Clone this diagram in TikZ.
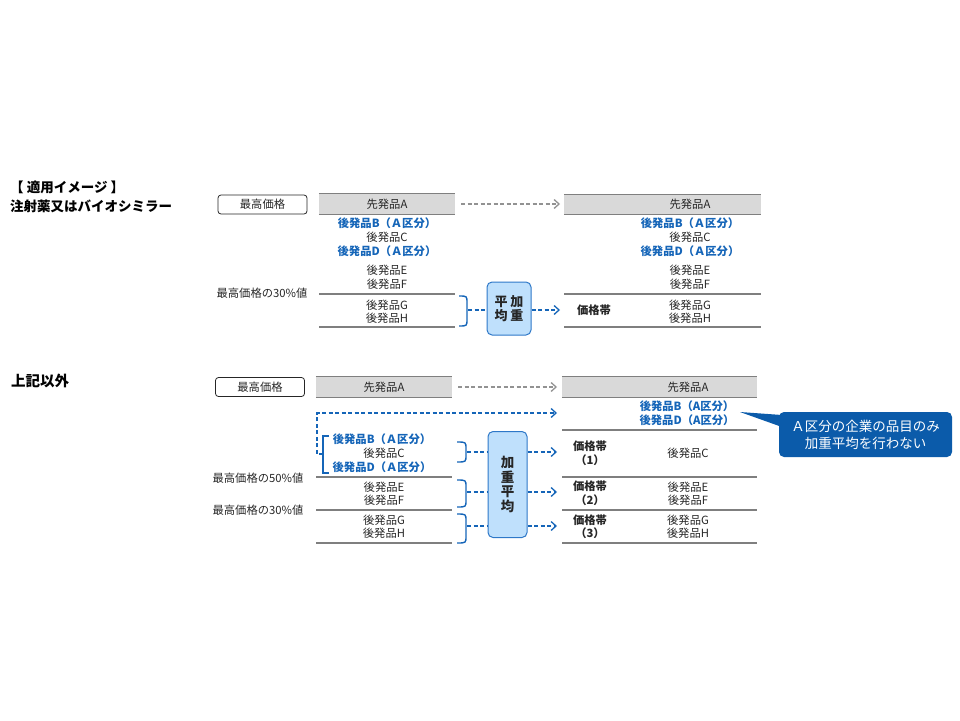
\documentclass[tikz,border=0pt]{standalone}
\usepackage{fontspec}
\setmainfont{Noto Sans CJK JP}
\usetikzlibrary{arrows.meta}
\definecolor{txtc}{HTML}{262626}
\definecolor{blu}{HTML}{1565B8}
\definecolor{dblu}{HTML}{0B5BAA}
\definecolor{lblu}{HTML}{BFE0FC}
\definecolor{bbord}{HTML}{2E78C8}
\definecolor{grl}{HTML}{7F7F7F}
\definecolor{grf}{HTML}{D9D9D9}
\begin{document}
\begin{tikzpicture}[x=1pt,y=-1pt,
  t/.style={font=\fontsize{11.3}{12}\selectfont, text=txtc, inner sep=0pt},
  tb/.style={font=\fontsize{11.3}{12}\selectfont\bfseries, text=blu, inner sep=0pt},
  tk/.style={font=\fontsize{11.3}{12}\selectfont\bfseries, text=txtc, inner sep=0pt, align=center},
  ttl/.style={font=\fontsize{13.5}{16}\selectfont\bfseries, text=black, inner sep=0pt, anchor=west},
  maxbox/.style={draw=txtc, line width=0.8pt, rounded corners=3pt, minimum width=89, minimum height=19, inner sep=0pt, font=\fontsize{11.3}{12}\selectfont, text=txtc},
  band/.style={fill=grf, minimum height=20, inner sep=0pt},
  tl/.style={draw=grl, line width=1.3pt},
  brk/.style={draw=blu, line width=1.4pt},
  bd/.style={draw=blu, line width=1.3pt, dash pattern=on 4pt off 2.5pt},
  bda/.style={bd, -{Straight Barb[length=5pt,width=9pt,line width=1.3pt]}},
  gda/.style={draw=grl!85, line width=1.3pt, dash pattern=on 4pt off 2.5pt, -{Straight Barb[length=5pt,width=9pt,line width=1.3pt]}},
  wbox/.style={draw=bbord, fill=lblu, line width=1pt, rounded corners=5pt, inner sep=0pt, align=center, text=txtc},
]
\useasboundingbox (0,0) rectangle (960,720);

% ---------------- titles
\node[ttl] (title1) at (10,187) {【 適用イメージ 】};
\node[ttl] (title2) at (10,206) {注射薬又はバイオシミラー};
\node[ttl, font=\fontsize{14.5}{16}\selectfont\bfseries] (title3) at (11,381) {上記以外};

% ================= TOP SECTION
\node[maxbox] (mx1) at (262.5,204.5) {最高価格};
\node[band, minimum width=136] (hL1) at (387,204) {};
\draw[tl] (hL1.north west) -- (hL1.north east) (hL1.south west) -- (hL1.south east);
\node[t] (aL1) at (387,204) {先発品A};
\node[tb] (bL1) at (387,223) {後発品B（Ａ区分）};
\node[t] (cL1) at (387,237) {後発品C};
\node[tb] (dL1) at (387,251) {後発品D（Ａ区分）};
\node[t] (eL1) at (387,270) {後発品E};
\node[t] (fL1) at (387,284) {後発品F};
\node[t] (p30a) at (262,293) {最高価格の30\%値};
\coordinate (l1a) at (319,294); \coordinate (l1b) at (455,294);
\draw[tl] (l1a) -- (l1b);
\node[t] (gL1) at (387,305) {後発品G};
\node[t] (hhL1) at (387,318) {後発品H};
\coordinate (l2a) at (319,327); \coordinate (l2b) at (455,327);
\draw[tl] (l2a) -- (l2b);

% gray arrow
\coordinate (ga1) at (461,204); \coordinate (gb1) at (560,204);
\draw[gda] (ga1) -- (gb1);

% bracket + weighted average box
\coordinate (bt1) at (459,296); \coordinate (bb1) at (459,326); \coordinate (bm1) at (468,310);
\draw[brk] (bt1) .. controls (467,296) .. (467,303) -- (467,319) .. controls (467,326) .. (bb1);
\node[wbox, minimum width=44, minimum height=53, font=\fontsize{13}{13.5}\selectfont\bfseries] (w1) at (509,308.5) {平\hspace{3pt}加\\均\hspace{3pt}重};
\draw[bd] (bm1) -- (bm1 -| w1.west);
\coordinate (ar0) at (560,310);
\draw[bda] (bm1 -| w1.east) -- (ar0);

% right table
\node[band, minimum width=197] (hR1) at (662.5,204.5) {};
\draw[tl] (hR1.north west) -- (hR1.north east) (hR1.south west) -- (hR1.south east);
\node[t] (aR1) at (690,204) {先発品A};
\node[tb] (bR1) at (690,223) {後発品B（Ａ区分）};
\node[t] (cR1) at (690,237) {後発品C};
\node[tb] (dR1) at (690,251) {後発品D（Ａ区分）};
\node[t] (eR1) at (690,270) {後発品E};
\node[t] (fR1) at (690,284) {後発品F};
\coordinate (r1a) at (564,294); \coordinate (r1b) at (761,294);
\draw[tl] (r1a) -- (r1b);
\node[tk] (kR1) at (594,310) {価格帯};
\node[t] (gR1) at (690,305) {後発品G};
\node[t] (hhR1) at (690,318) {後発品H};
\coordinate (r2a) at (564,327); \coordinate (r2b) at (761,327);
\draw[tl] (r2a) -- (r2b);

% ================= BOTTOM SECTION
\node[maxbox] (mx2) at (260,387) {最高価格};
\node[band, minimum width=136] (hL2) at (384,387) {};
\draw[tl] (hL2.north west) -- (hL2.north east) (hL2.south west) -- (hL2.south east);
\node[t] (aL2) at (384,387) {先発品A};
\coordinate (ga2) at (458,387); \coordinate (gb2) at (557,387);
\draw[gda] (ga2) -- (gb2);

\node[tb] (bL2) at (382,439) {後発品B（Ａ区分）};
\node[t] (cL2) at (384,453) {後発品C};
\node[tb] (dL2) at (382,467) {後発品D（Ａ区分）};
% left square bracket and dashed route
\draw[brk] (329,436) -- (323,436) -- (323,473) -- (329,473);
\coordinate (sq) at (323,454);
\coordinate (up1) at (317,454); \coordinate (up2) at (317,413); \coordinate (upe) at (557,413);
\draw[bda] (sq) -- (up1) -- (up2) -- (upe);

\node[t] (p50) at (258,478) {最高価格の50\%値};
\coordinate (m1a) at (316,477); \coordinate (m1b) at (452,477);
\draw[tl] (m1a) -- (m1b);
\node[t] (eL2) at (384,487) {後発品E};
\node[t] (fL2) at (384,500) {後発品F};
\node[t] (p30b) at (258,510) {最高価格の30\%値};
\coordinate (m2a) at (316,510); \coordinate (m2b) at (452,510);
\draw[tl] (m2a) -- (m2b);
\node[t] (gL2) at (384,520) {後発品G};
\node[t] (hhL2) at (384,533) {後発品H};
\coordinate (m3a) at (316,543); \coordinate (m3b) at (452,543);
\draw[tl] (m3a) -- (m3b);

% brackets
\draw[brk] (457,442) .. controls (466,442) .. (466,449) -- (466,455) .. controls (466,462) .. (457,462);
\draw[brk] (457,480) .. controls (466,480) .. (466,487) -- (466,500) .. controls (466,507) .. (457,507);
\draw[brk] (457,514) .. controls (466,514) .. (466,521) -- (466,536) .. controls (466,543) .. (457,543);
\coordinate (k1) at (467,452); \coordinate (k2) at (467,492); \coordinate (k3) at (467,526);

\node[wbox, minimum width=39, minimum height=106, font=\fontsize{13.5}{14.5}\selectfont\bfseries] (w2) at (507.5,484.5) {加\\重\\平\\均};
\draw[bd] (k1) -- (k1 -| w2.west);
\draw[bd] (k2) -- (k2 -| w2.west);
\draw[bd] (k3) -- (k3 -| w2.west);
\coordinate (e1) at (557,452); \coordinate (e2) at (557,492); \coordinate (e3) at (557,526);
\draw[bda] (k1 -| w2.east) -- (e1);
\draw[bda] (k2 -| w2.east) -- (e2);
\draw[bda] (k3 -| w2.east) -- (e3);

% right table bottom
\node[band, minimum width=195] (hR2) at (659.5,387) {};
\draw[tl] (hR2.north west) -- (hR2.north east) (hR2.south west) -- (hR2.south east);
\node[t] (aR2) at (688,387) {先発品A};
\node[tb] (bR2) at (687,406) {後発品B（A区分）};
\node[tb] (dR2) at (687,420) {後発品D（A区分）};
\coordinate (n1a) at (562,430); \coordinate (n1b) at (757,430);
\draw[tl] (n1a) -- (n1b);
\node[tk] (k1R) at (590,446) {価格帯};
\node[tk] (k1n) at (590,460) {（1）};
\node[t] (cR2) at (688,453) {後発品C};
\coordinate (n2a) at (562,477); \coordinate (n2b) at (757,477);
\draw[tl] (n2a) -- (n2b);
\node[tk] (k2R) at (590,486) {価格帯};
\node[tk] (k2n) at (590,500) {（2）};
\node[t] (eR2) at (688,487) {後発品E};
\node[t] (fR2) at (688,500) {後発品F};
\coordinate (n3a) at (562,510); \coordinate (n3b) at (757,510);
\draw[tl] (n3a) -- (n3b);
\node[tk] (k3R) at (590,520) {価格帯};
\node[tk] (k3n) at (590,533) {（3）};
\node[t] (gR2) at (688,520) {後発品G};
\node[t] (hhR2) at (688,533) {後発品H};
\coordinate (n4a) at (562,543); \coordinate (n4b) at (757,543);
\draw[tl] (n4a) -- (n4b);

% callout
\coordinate (tip) at (740,412);
\fill[dblu] (tip) -- (782,415) -- (782,427) -- cycle;
\node[fill=dblu, rounded corners=5pt, minimum width=173, minimum height=45, inner sep=0pt, align=center, text=white, font=\fontsize{13.5}{17}\selectfont] (cb) at (865.5,434.5) {Ａ区分の企業の品目のみ\\加重平均を行わない};
\end{tikzpicture}
\end{document}
